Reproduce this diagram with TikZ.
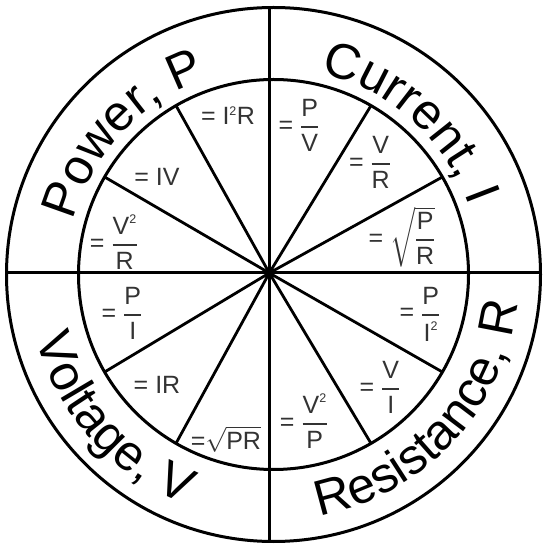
\documentclass[tikz,border=0pt]{standalone}
\usepackage{amsmath}
\usepackage{fontspec}
\setmainfont{Liberation Sans}
\usetikzlibrary{decorations.text}
\definecolor{eqgray}{HTML}{333333}
\newcommand{\eqfrac}[2]{\genfrac{}{}{2pt}{0}{\text{#1}}{\text{#2}}}
\newcommand{\sqd}{^{\scriptscriptstyle\text{2}}}
\tikzset{
  % Ring circles and the two full diameters
  ringline/.style={line width=3pt},
  % Spokes inside the inner disc
  spokeline/.style={line width=2.8pt},
  % Formula inside a sector
  eqnode/.style={text=eqgray, font=\fontsize{25}{29}\selectfont, inner sep=0pt},
  % Quantity name bent along the ring
  ringtext/.style={decorate, decoration={text along path, text align=center,
      text={|\fontsize{50}{50}\selectfont|#1}}}
}

\begin{document}
\begin{tikzpicture}[x=1pt, y=1pt]
\useasboundingbox (0,0) rectangle (542,544);

\coordinate (C) at (273.5,269.5);   % centre of the circles
\coordinate (hub) at (269.3,271);   % where the lines meet

% ============== RINGS AND DIAMETERS ==============
\draw[ringline] (C) circle[radius=267];
\draw[ringline] (C) circle[radius=195];
\begin{scope}
  \clip (C) circle[radius=267];
  \draw[ringline] (hub) ++(-300,0) coordinate (w) -- (hub) -- ++(300,0) coordinate (e);
  \draw[ringline] (hub) ++(0,300) coordinate (n) -- (hub) -- ++(0,-300) coordinate (s);
\end{scope}

% ============== SPOKES ==============
\foreach \a in {30,60,120,150,210,240,300,330}
  \draw[spokeline] (hub) -- ([shift={(\a:195)}]C) coordinate (sp\a);

% ============== QUANTITY NAMES ==============
\path[ringtext={Power, P}] ([shift={(187:207)}]C) arc[start angle=187, end angle=87, radius=207];
\path[ringtext={Current, I}] ([shift={(98:207)}]C) arc[start angle=98, end angle=-2, radius=207];
\path[ringtext={Resistance, R}] ([shift={(-93:246)}]C) arc[start angle=-93, end angle=7, radius=246];
\path[ringtext={Voltage, V}] ([shift={(172:246)}]C) arc[start angle=172, end angle=272, radius=246];

% ============== FORMULAS ==============
\node[eqnode] (iPV)  at (299,419) {= $\eqfrac{P}{V}$};
\node[eqnode] (iVR)  at (370,382) {= $\eqfrac{V}{R}$};
\node[eqnode] (iPR)  at (402,307) {= $\sqrt{\eqfrac{P}{R}}$};
\node[eqnode] (rPI)  at (420,230) {= $\genfrac{}{}{2pt}{0}{\text{P}}{\text{I}\sqd}$};
\node[eqnode] (rVI)  at (380,157) {= $\eqfrac{V}{I}$};
\node[eqnode] (rVP)  at (304,123) {= $\genfrac{}{}{2pt}{0}{\text{V}\sqd}{\text{P}}$};
\node[eqnode] (vPR)  at (226,105) {=$\sqrt{\text{PR}}$};
\node[eqnode] (vIR)  at (157,159) {= IR};
\node[eqnode] (vPI)  at (122,231) {= $\eqfrac{P}{I}$};
\node[eqnode] (pVR)  at (114,302) {= $\genfrac{}{}{2pt}{0}{\text{V}\sqd}{\text{R}}$};
\node[eqnode] (pIV)  at (157,367) {= IV};
\node[eqnode] (pIIR) at (228,428) {= I$\sqd$R};

\end{tikzpicture}
\end{document}
